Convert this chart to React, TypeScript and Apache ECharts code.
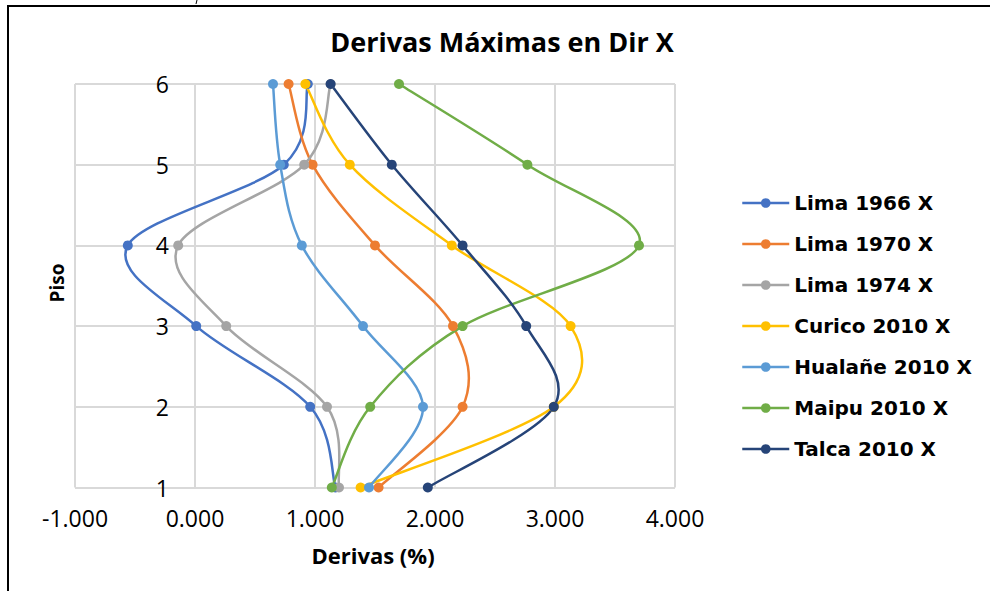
import React, { useEffect, useRef } from "react";
import * as echarts from "echarts";

const pisos = [1, 2, 3, 4, 5, 6];
const seriesNames = [
  "Lima 1966 X",
  "Lima 1970 X",
  "Lima 1974 X",
  "Curico 2010 X",
  "Hualañe 2010 X",
  "Maipu 2010 X",
  "Talca 2010 X",
];
const lima1966 = [1.17, 0.96, 0.01, -0.56, 0.74, 0.94];
const lima1970 = [1.53, 2.23, 2.15, 1.5, 0.98, 0.78];
const lima1974 = [1.2, 1.1, 0.26, -0.14, 0.91, 1.13];
const curico2010 = [1.38, 2.99, 3.13, 2.14, 1.29, 0.92];
const hualane2010 = [1.45, 1.9, 1.4, 0.89, 0.71, 0.65];
const maipu2010 = [1.14, 1.46, 2.23, 3.7, 2.77, 1.7];
const talca2010 = [1.94, 2.99, 2.76, 2.23, 1.64, 1.13];
const allValues = [lima1966, lima1970, lima1974, curico2010, hualane2010, maipu2010, talca2010];
const colors = ["#4472C4", "#ED7D31", "#A5A5A5", "#FFC000", "#5B9BD5", "#70AD47", "#264478"];

function curveSeries(i: number) {
  const vals = allValues[i];
  return {
    type: "custom",
    name: seriesNames[i] + " (curva)",
    silent: true,
    data: pisos.map((p, j) => [vals[j], p]),
    encode: { x: 0, y: 1 },
    renderItem: (params: any, api: any) => {
      if (params.dataIndex !== 0) return null;
      const pts = pisos.map((p, j) => api.coord([vals[j], p]));
      const n = pts.length;
      let d = `M${pts[0][0]},${pts[0][1]}`;
      for (let k = 0; k < n - 1; k++) {
        const p0 = pts[Math.max(k - 1, 0)];
        const p1 = pts[k];
        const p2 = pts[k + 1];
        const p3 = pts[Math.min(k + 2, n - 1)];
        const c1x = p1[0] + (p2[0] - p0[0]) / 6;
        const c1y = p1[1] + (p2[1] - p0[1]) / 6;
        const c2x = p2[0] - (p3[0] - p1[0]) / 6;
        const c2y = p2[1] - (p3[1] - p1[1]) / 6;
        d += ` C${c1x},${c1y} ${c2x},${c2y} ${p2[0]},${p2[1]}`;
      }
      return {
        type: "path",
        shape: { pathData: d },
        style: { fill: "none", stroke: colors[i], lineWidth: 2.5 },
      };
    },
  };
}

function markerSeries(i: number) {
  const vals = allValues[i];
  return {
    name: seriesNames[i],
    type: "line",
    symbol: "circle",
    symbolSize: 10,
    lineStyle: { width: 2.5, color: colors[i], opacity: 0 },
    itemStyle: { color: colors[i] },
    data: pisos.map((p, j) => [vals[j], p]),
  };
}

export default function App() {
  const ref = useRef<HTMLDivElement>(null);
  useEffect(() => {
    if (!ref.current) return;
    const chart = echarts.init(ref.current, undefined, { renderer: "svg" });
    const labelFont = { fontFamily: "Open Sans", fontSize: 23, color: "#000" };
    const series: any[] = [];
    seriesNames.forEach((_, i) => {
      series.push(curveSeries(i));
      series.push(markerSeries(i));
    });
    chart.setOption({
      animation: false,
      backgroundColor: "#fff",
      color: colors,
      grid: { left: 75, right: 315, top: 84, bottom: 103.5, containLabel: false },
      xAxis: {
        type: "value",
        min: -1,
        max: 4,
        interval: 1,
        axisLine: { show: false, onZero: false },
        axisTick: { show: false },
        splitLine: { show: true, lineStyle: { color: "#D9D9D9", width: 2 } },
        axisLabel: { ...labelFont, margin: 19, formatter: (v: number) => v.toFixed(3) },
      },
      yAxis: {
        type: "value",
        min: 1,
        max: 6,
        interval: 1,
        axisLine: { show: false, onZero: false },
        axisTick: { show: false },
        splitLine: { show: true, lineStyle: { color: "#D9D9D9", width: 2 } },
        axisLabel: { ...labelFont, margin: -94 },
      },
      legend: {
        orient: "vertical",
        left: 741,
        top: 193,
        padding: 0,
        itemWidth: 47,
        itemHeight: 12,
        itemGap: 21,
        lineStyle: { width: 2.5, opacity: 1 },
        textStyle: {
          fontFamily: "DejaVu Sans",
          fontWeight: "bold",
          fontSize: 20,
          lineHeight: 20,
          color: "#000",
        },
        data: seriesNames,
      },
      series,
      graphic: [
        {
          type: "text",
          x: 502,
          y: 41,
          style: {
            text: "Derivas Máximas en Dir X",
            fontFamily: "Open Sans",
            fontWeight: "bold",
            fontSize: 27,
            fill: "#000",
            textAlign: "center",
            textVerticalAlign: "middle",
          },
        },
        {
          type: "text",
          x: 373,
          y: 555,
          style: {
            text: "Derivas (%)",
            fontFamily: "Open Sans",
            fontWeight: "bold",
            fontSize: 22,
            fill: "#000",
            textAlign: "center",
            textVerticalAlign: "middle",
          },
        },
        {
          type: "text",
          x: 57,
          y: 283,
          rotation: Math.PI / 2,
          style: {
            text: "Piso",
            fontFamily: "Open Sans",
            fontWeight: "bold",
            fontSize: 19,
            fill: "#000",
            textAlign: "center",
            textVerticalAlign: "middle",
          },
        },
        {
          type: "line",
          shape: { x1: 7, y1: 6, x2: 990, y2: 6 },
          style: { stroke: "#000", lineWidth: 2 },
        },
        {
          type: "line",
          shape: { x1: 8, y1: 5, x2: 8, y2: 591 },
          style: { stroke: "#000", lineWidth: 2 },
        },
        {
          type: "line",
          shape: { x1: 197, y1: 0, x2: 196, y2: 4 },
          style: { stroke: "#000", lineWidth: 1 },
        },
      ],
    });
    return () => chart.dispose();
  }, []);
  return (
    <div
      ref={ref}
      style={{ position: "fixed", left: 0, top: 0, width: 990, height: 591 }}
    />
  );
}
